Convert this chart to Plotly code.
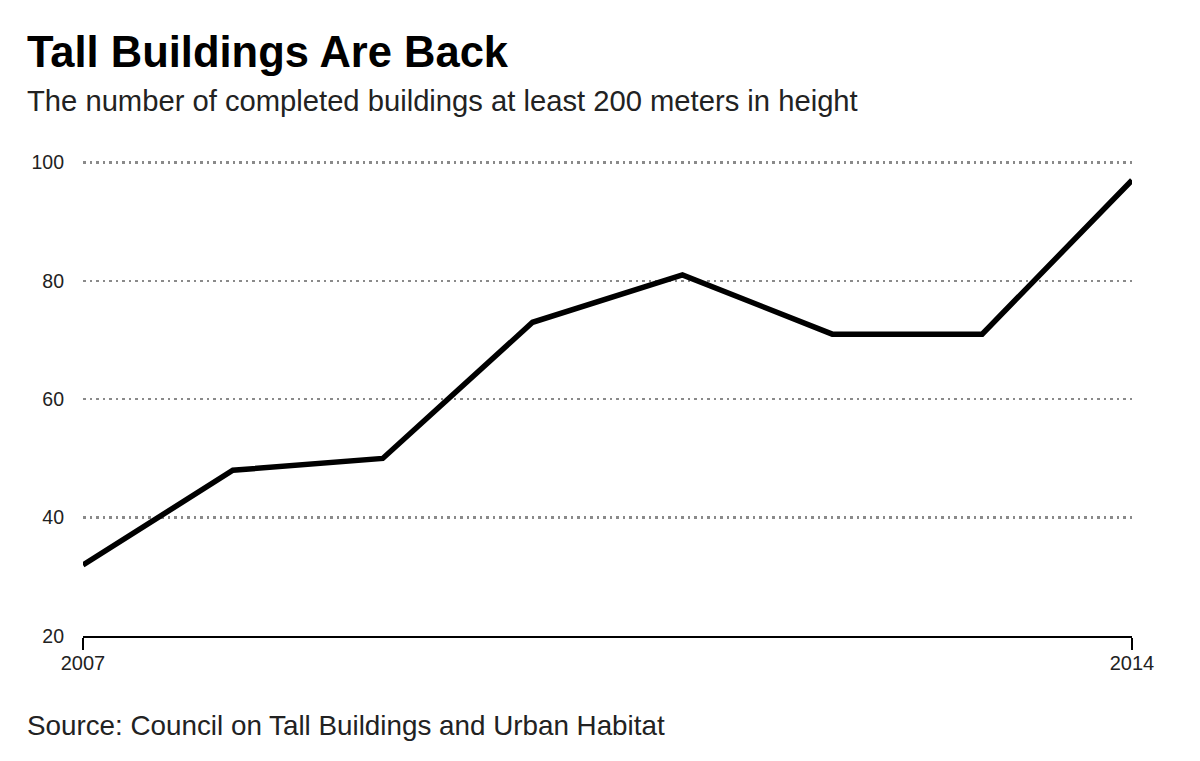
import plotly.graph_objects as go

years = [2007, 2008, 2009, 2010, 2011, 2012, 2013, 2014]
buildings = [32, 48, 50, 73, 81, 71, 71, 97]
y_ticks = [20, 40, 60, 80, 100]
x_ticks = [2007, 2014]

title = "Tall Buildings Are Back"
subtitle = "The number of completed buildings at least 200 meters in height"
source = "Source: Council on Tall Buildings and Urban Habitat"

W, H = 1200, 761
ml, mr, mt, mb = 83, 68, 161, 125
ph = H - mt - mb
pw = W - ml - mr

def px_to_paper_x(px):
    return (px - ml) / pw

def px_to_paper_y(py):
    return (H - mb - py) / ph

fig = go.Figure()
fig.add_trace(go.Scatter(
    x=years, y=buildings, mode="lines",
    line=dict(color="black", width=5.5),
    hoverinfo="skip", showlegend=False,
))

font = "Liberation Sans, Arial, Helvetica, sans-serif"

fig.update_layout(
    width=W, height=H,
    margin=dict(l=ml, r=mr, t=mt, b=mb),
    paper_bgcolor="white", plot_bgcolor="white",
    font=dict(family=font, color="#222"),
    xaxis=dict(
        range=[2007, 2014], tickvals=x_ticks, ticktext=[str(v) for v in x_ticks],
        showgrid=False, zeroline=False,
        showline=True, linecolor="black", linewidth=2,
        ticks="outside", ticklen=12, tickwidth=2, tickcolor="black",
        ticklabelstandoff=-4,
        tickfont=dict(size=20, color="#222", family=font),
    ),
    yaxis=dict(
        range=[20, 100.25], tickvals=y_ticks,
        showgrid=True, gridcolor="#8a8a8a", gridwidth=2.5, griddash="2.5px,4px",
        zeroline=False, showline=False, ticks="",
        ticklabelstandoff=18,
        tickfont=dict(size=19.5, color="#222", family=font),
    ),
    annotations=[
        dict(text="<b>" + title + "</b>", x=px_to_paper_x(25), y=px_to_paper_y(52),
             xref="paper", yref="paper", xanchor="left", yanchor="middle",
             showarrow=False, font=dict(size=43.5, color="black", family=font)),
        dict(text=subtitle, x=px_to_paper_x(25), y=px_to_paper_y(101),
             xref="paper", yref="paper", xanchor="left", yanchor="middle",
             showarrow=False, font=dict(size=29.2, color="#222", family=font)),
        dict(text=source, x=px_to_paper_x(25), y=px_to_paper_y(725),
             xref="paper", yref="paper", xanchor="left", yanchor="middle",
             showarrow=False, font=dict(size=27.8, color="#222", family=font)),
    ],
)

fig.write_html(
    "out.html",
    config={"displayModeBar": False, "staticPlot": True},
    post_script="document.body.style.margin='0';document.body.style.overflow='hidden';",
)
